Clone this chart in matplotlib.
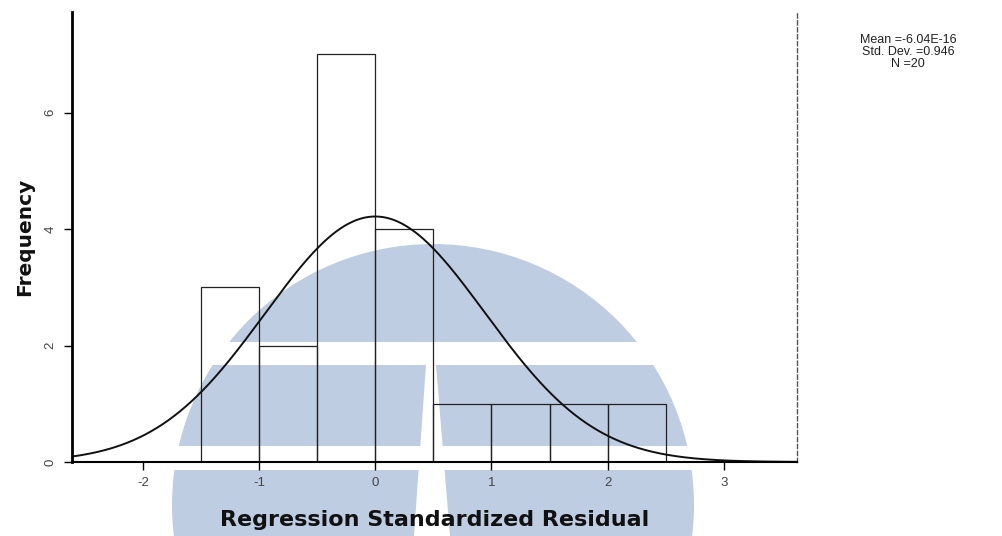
import numpy as np
import matplotlib
matplotlib.use('Agg')
import matplotlib.pyplot as plt
from matplotlib import patches

# histogram of regression standardized residuals (N = 20)
bin_edges = [-1.5, -1.0, -0.5, 0.0, 0.5, 1.0, 1.5, 2.0, 2.5]
counts = [3, 2, 7, 4, 1, 1, 1, 1]
mean = -6.04e-16
std = 0.946
n = 20
bin_width = 0.5

x_ticks = [-2, -1, 0, 1, 2, 3]
y_ticks = [0, 2, 4, 6]
stats_text = 'Mean =-6.04E-16\nStd. Dev. =0.946\nN =20'

W, H = 1003, 536
fig = plt.figure(figsize=(W / 100, H / 100), dpi=100)

# background watermark (pixel coords, y down)
bg = fig.add_axes([0, 0, 1, 1], zorder=0)
bg.set_xlim(0, W)
bg.set_ylim(H, 0)
bg.axis('off')
wm = '#bfcde2'
bg.add_patch(patches.Circle((433, 505), 261, color=wm, lw=0))
bg.add_patch(patches.Rectangle((0, 342), W, 23, color='white', lw=0))
bg.add_patch(patches.Rectangle((0, 446), W, 24, color='white', lw=0))
bg.add_patch(patches.Polygon([(426, 365), (436, 365), (450, H), (414, H)],
                             closed=True, color='white', lw=0))

# main axes
ax = fig.add_axes([72 / W, 1 - 462 / H, (797 - 72) / W, (462 - 12) / H], zorder=1)
ax.set_facecolor('none')
ax.set_xlim(-2.61, 3.63)
ax.set_ylim(0, 7.73)

ax.bar(bin_edges[:-1], counts, width=bin_width, align='edge',
       fill=False, edgecolor='#222222', linewidth=0.9)

xs = np.linspace(-2.61, 3.63, 500)
ys = n * bin_width * np.exp(-0.5 * ((xs - mean) / std) ** 2) / (std * np.sqrt(2 * np.pi))
ax.plot(xs, ys, color='#111111', linewidth=1.4)

ax.spines['top'].set_visible(False)
ax.spines['left'].set_linewidth(2.0)
ax.spines['bottom'].set_linewidth(1.5)
ax.spines['right'].set_color('#555555')
ax.spines['right'].set_linestyle((0, (3, 2)))
ax.spines['right'].set_linewidth(1.0)

ax.set_xticks(x_ticks)
ax.set_xticklabels([str(v) for v in x_ticks])
ax.set_yticks(y_ticks)
ax.set_yticklabels([str(v) for v in y_ticks], rotation=90, va='center')
ax.tick_params(direction='out', length=6, width=1, labelsize=9.5,
               labelcolor='#444444', pad=5)
for lab in ax.get_xticklabels() + ax.get_yticklabels():
    lab.set_family('Liberation Sans')

ax.set_xlabel('Regression Standardized Residual', fontsize=16,
              fontweight='bold', family='DejaVu Sans', color='#111111',
              va='center')
ax.set_ylabel('Frequency', fontsize=14.5, fontweight='bold',
              family='DejaVu Sans', color='#111111', va='center')
ax.xaxis.set_label_coords(0.5, -0.129)
ax.yaxis.set_label_coords(-0.065, 0.5)

fig.text(908 / W, 1 - 52 / H, stats_text, ha='center', va='center',
         fontsize=9, family='Liberation Sans', color='#222222',
         linespacing=1.0)

fig.savefig('out.png', dpi=100)
